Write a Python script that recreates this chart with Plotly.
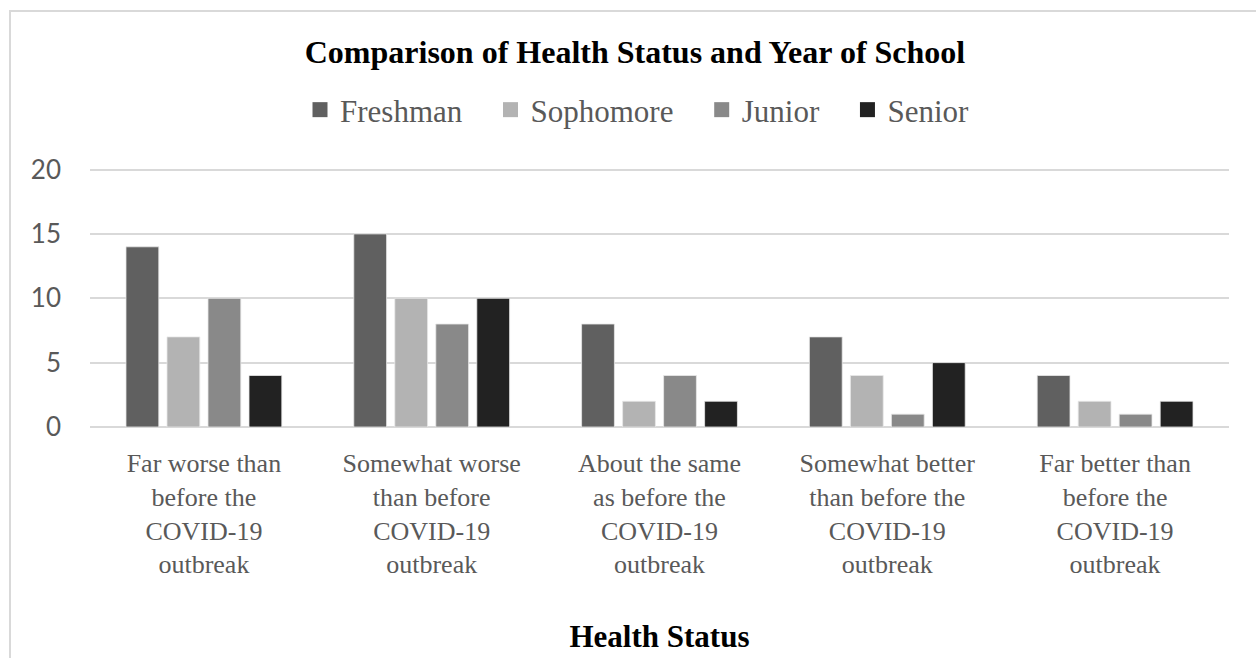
import plotly.graph_objects as go

categories = [
    "Far worse than<br>before the<br>COVID-19<br>outbreak",
    "Somewhat worse<br>than before<br>COVID-19<br>outbreak",
    "About the same<br>as before the<br>COVID-19<br>outbreak",
    "Somewhat better<br>than before the<br>COVID-19<br>outbreak",
    "Far better than<br>before the<br>COVID-19<br>outbreak",
]
freshman = [14, 15, 8, 7, 4]
sophomore = [7, 10, 2, 4, 2]
junior = [10, 8, 4, 1, 1]
senior = [4, 10, 2, 5, 2]

series_names = ["Freshman", "Sophomore", "Junior", "Senior"]
series_values = [freshman, sophomore, junior, senior]
series_colors = ["#606060", "#b3b3b3", "#898989", "#222222"]

W, H = 1256, 658
ML, MR, MT, MB = 90, 27, 167, 231
PW, PH = W - ML - MR, H - MT - MB

fig = go.Figure()
for name, vals, col in zip(series_names, series_values, series_colors):
    fig.add_trace(go.Bar(
        name=name, x=categories, y=vals, showlegend=False,
        marker=dict(color=col, line=dict(width=0.8, color="#e8e8e8")),
    ))
# legend entries with square swatches
for i, (name, col) in enumerate(zip(series_names, series_colors)):
    label = name + ("\u00a0\u00a0\u00a0" if i < len(series_names) - 1 else "")
    fig.add_trace(go.Scatter(
        name=label, x=[None], y=[None], mode="markers",
        marker=dict(symbol="square", size=15, color=col),
        showlegend=True,
    ))

serif = "Liberation Serif, Times New Roman, serif"

def px_x(px):
    return (px - ML) / PW

def px_y(py):
    return (H - MB - py) / PH

fig.update_layout(
    width=W, height=H,
    margin=dict(l=ML, r=MR, t=MT, b=MB),
    paper_bgcolor="white", plot_bgcolor="white",
    barmode="group", bargap=0.28, bargroupgap=0.2,
    title=dict(
        text="<b>Comparison of Health Status and Year of School</b>",
        font=dict(family=serif, size=32, color="#000000"),
        x=635 / W, xanchor="center", xref="container",
        y=1 - 52 / H, yanchor="middle",
    ),
    legend=dict(
        orientation="h", x=px_x(300), xanchor="left",
        y=px_y(110), yanchor="middle",
        font=dict(family=serif, size=31, color="#595959"),
        itemclick=False, bgcolor="rgba(0,0,0,0)",
        traceorder="normal", itemwidth=30,
    ),
    xaxis=dict(
        tickfont=dict(family=serif, size=26, color="#595959"),
        showgrid=False, showline=False, zeroline=False,
        ticks="", ticklabelstandoff=18,
        title=dict(text="<b>Health Status</b>",
                   font=dict(family=serif, size=31, color="#000000"),
                   standoff=46),
    ),
    yaxis=dict(
        range=[0, 20.2], tickvals=[0, 5, 10, 15, 20],
        tickfont=dict(family="Lato, Carlito, sans-serif", size=26, color="#595959"),
        showgrid=True, gridcolor="#d9d9d9", gridwidth=1.5,
        zeroline=True, zerolinecolor="#d9d9d9", zerolinewidth=1.5,
        showline=False, ticks="", ticklabelstandoff=28,
    ),
    shapes=[dict(
        type="rect", xref="paper", yref="paper",
        x0=px_x(10), x1=px_x(1280), y0=px_y(700), y1=px_y(11),
        line=dict(color="#d9d9d9", width=2), fillcolor="rgba(0,0,0,0)",
        layer="below",
    )],
)

fig.write_html("out.html")
